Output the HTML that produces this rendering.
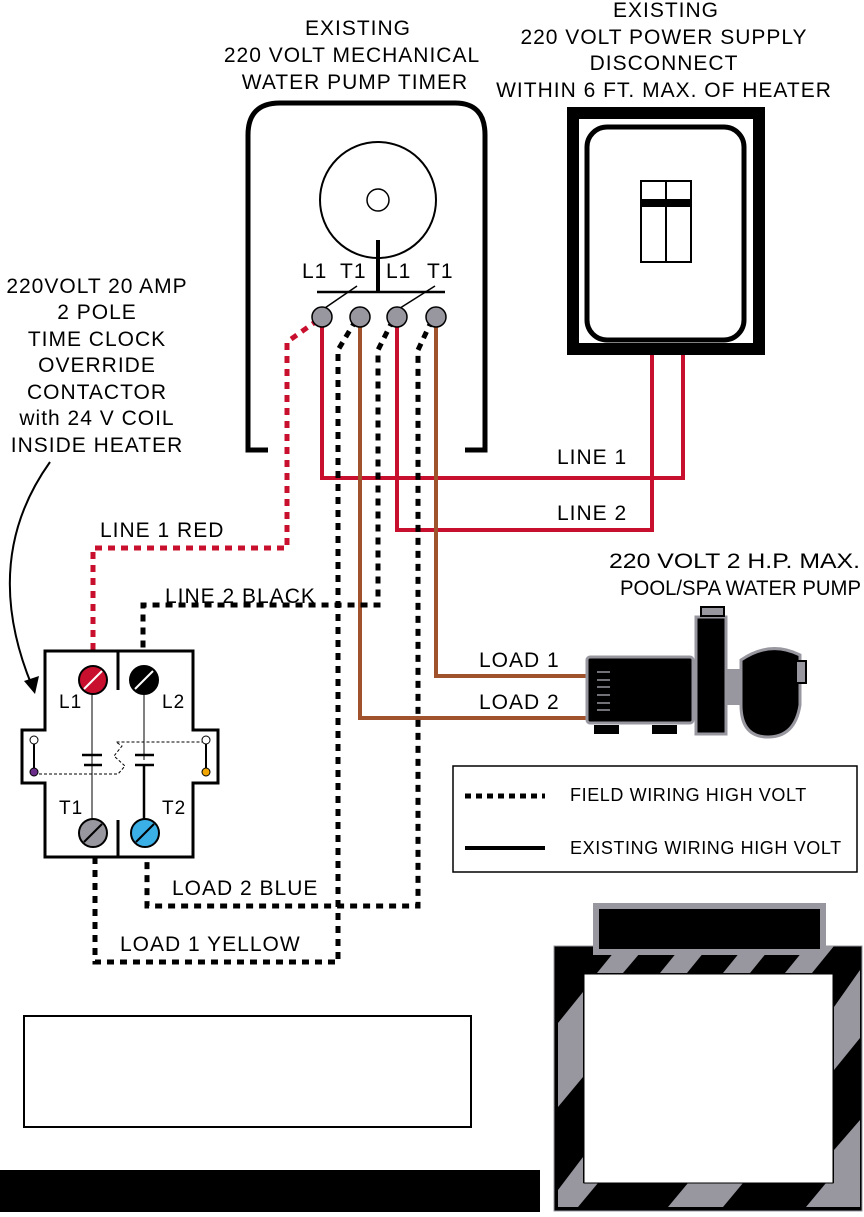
<!DOCTYPE html>
<html><head><meta charset="utf-8"><style>
body{margin:0;background:#fff}
svg text{font-family:"Liberation Sans",sans-serif;font-size:21px;letter-spacing:1px;fill:#000}
</style></head><body>
<svg width="864" height="1212" viewBox="0 0 864 1212" xmlns="http://www.w3.org/2000/svg">
<!-- header texts -->
<g text-anchor="middle">
<text x="358" y="35">EXISTING</text>
<text x="352" y="62">220 VOLT MECHANICAL</text>
<text x="355" y="89">WATER PUMP TIMER</text>
<text x="666" y="17">EXISTING</text>
<text x="664" y="44">220 VOLT POWER SUPPLY</text>
<text x="664" y="70">DISCONNECT</text>
<text x="664" y="97">WITHIN 6 FT. MAX. OF HEATER</text>
<text x="97" y="293">220VOLT 20 AMP</text>
<text x="97" y="319">2 POLE</text>
<text x="97" y="346">TIME CLOCK</text>
<text x="97" y="372">OVERRIDE</text>
<text x="97" y="399">CONTACTOR</text>
<text x="97" y="425">with 24 V COIL</text>
<text x="97" y="452">INSIDE HEATER</text>
</g>
<text x="609" y="568" style="letter-spacing:0" textLength="251" lengthAdjust="spacingAndGlyphs">220 VOLT 2 H.P. MAX.</text>
<text x="620" y="595" style="letter-spacing:0" textLength="241" lengthAdjust="spacingAndGlyphs">POOL/SPA WATER PUMP</text>
<!-- timer enclosure -->
<path d="M268,450 H248 V135 Q248,103 280,103 H455 Q485,103 485,135 V450 H465" fill="none" stroke="#000" stroke-width="5"/>
<circle cx="378" cy="200" r="58" fill="none" stroke="#000" stroke-width="2"/>
<circle cx="378" cy="200" r="11" fill="none" stroke="#000" stroke-width="1.5"/>
<line x1="378" y1="240" x2="378" y2="292" stroke="#000" stroke-width="4"/>
<line x1="317" y1="292" x2="445" y2="292" stroke="#000" stroke-width="2.5"/>
<line x1="322" y1="310" x2="357" y2="286" stroke="#000" stroke-width="1.5"/>
<line x1="397" y1="310" x2="435" y2="286" stroke="#000" stroke-width="1.5"/>
<text x="302" y="278">L1</text><text x="340" y="278">T1</text><text x="386" y="278">L1</text><text x="427" y="278">T1</text>
<!-- disconnect -->
<rect x="573" y="113" width="186" height="236" fill="none" stroke="#000" stroke-width="12"/>
<rect x="587" y="127" width="157" height="213" rx="20" fill="none" stroke="#000" stroke-width="5"/>
<rect x="641" y="181" width="50" height="81" fill="none" stroke="#000" stroke-width="2"/>
<line x1="666" y1="181" x2="666" y2="262" stroke="#000" stroke-width="2"/>
<rect x="641" y="199" width="50" height="8" fill="#000"/>
<!-- existing wires -->
<g fill="none" stroke-width="4">
<path d="M322,317 V478 H683 V355" stroke="#c8102e"/>
<path d="M397,317 V530 H652 V355" stroke="#c8102e"/>
<path d="M436,317 V676 H588" stroke="#a0522d"/>
<path d="M360,317 V718 H588" stroke="#a0522d"/>
</g>
<!-- field wiring -->
<g fill="none" stroke-width="5" stroke-dasharray="7,6">
<path d="M318,320 L287,342 V548 H93 V668" stroke="#c8102e"/>
<path d="M356,320 L338,350 V962 H95 V845" stroke="#000"/>
<path d="M393,320 L378,350 V605 H143 V668" stroke="#000"/>
<path d="M432,320 L418,350 V906 H147 V845" stroke="#000"/>
</g>
<!-- terminals -->
<g fill="#98979f" stroke="#000" stroke-width="1.5">
<circle cx="322" cy="317" r="10"/><circle cx="360" cy="317" r="10"/><circle cx="397" cy="317" r="10"/><circle cx="436" cy="317" r="10"/>
</g>
<text x="557" y="464">LINE 1</text>
<text x="557" y="520">LINE 2</text>
<text x="479" y="667">LOAD 1</text>
<text x="479" y="709">LOAD 2</text>
<text x="100" y="537">LINE 1 RED</text>
<text x="165" y="603">LINE 2 BLACK</text>
<text x="172" y="895">LOAD 2 BLUE</text>
<text x="120" y="951">LOAD 1 YELLOW</text>
<!-- arrow -->
<path d="M50,462 Q-20,560 32,686" fill="none" stroke="#000" stroke-width="2"/>
<path d="M24,681 L35,694 L39,676 Z" fill="#000"/>
<!-- contactor -->
<path d="M45,651 H193 V730 H218 V783 H193 V857 H45 V783 H22 V730 H45 Z" fill="#fff" stroke="#000" stroke-width="3"/>
<line x1="118" y1="651" x2="118" y2="690" stroke="#000" stroke-width="3"/>
<line x1="118" y1="820" x2="118" y2="857" stroke="#000" stroke-width="3"/>
<line x1="92" y1="690" x2="92" y2="820" stroke="#000" stroke-width="1"/>
<line x1="144" y1="690" x2="144" y2="760" stroke="#000" stroke-width="1"/>
<line x1="144" y1="765" x2="144" y2="820" stroke="#000" stroke-width="2.5"/>
<g stroke="#000" stroke-width="2.5"><line x1="82" y1="755" x2="102" y2="755"/><line x1="84" y1="765" x2="102" y2="765"/><line x1="135" y1="755" x2="154" y2="755"/><line x1="135" y1="765" x2="154" y2="765"/></g>
<path d="M34,774 H118 L125,766 L114,756 L122,746 L116,742 H206" fill="none" stroke="#000" stroke-width="1" stroke-dasharray="3,2"/>
<line x1="34" y1="743" x2="34" y2="772" stroke="#000" stroke-width="2"/>
<line x1="206" y1="743" x2="206" y2="772" stroke="#000" stroke-width="2"/>
<circle cx="34" cy="740" r="4" fill="#fff" stroke="#000"/><circle cx="34" cy="772" r="4" fill="#6b2d8a" stroke="#000"/>
<circle cx="206" cy="740" r="4" fill="#fff" stroke="#000"/><circle cx="206" cy="772" r="4" fill="#f0a500" stroke="#000"/>
<g stroke="#000" stroke-width="2">
<circle cx="93" cy="680" r="14" fill="#c8102e"/><circle cx="144" cy="680" r="14" fill="#000"/>
<circle cx="93" cy="833" r="14" fill="#98979f"/><circle cx="145" cy="833" r="14" fill="#3bb0e6"/>
</g>
<g stroke-width="2"><line x1="84" y1="689" x2="102" y2="671" stroke="#fff"/><line x1="135" y1="689" x2="153" y2="671" stroke="#fff"/><line x1="84" y1="842" x2="102" y2="824" stroke="#000"/><line x1="136" y1="842" x2="154" y2="824" stroke="#000"/></g>
<text x="59" y="708" style="font-size:19px">L1</text><text x="162" y="708" style="font-size:19px">L2</text><text x="59" y="814" style="font-size:19px">T1</text><text x="162" y="814" style="font-size:19px">T2</text>
<!-- pump -->
<rect x="587" y="657" width="106" height="66" rx="3" fill="#000" stroke="#98979f" stroke-width="3"/>
<g stroke="#98979f" stroke-width="1.5"><line x1="597" y1="672" x2="610" y2="672"/><line x1="597" y1="680" x2="610" y2="680"/><line x1="597" y1="687" x2="610" y2="687"/><line x1="597" y1="695" x2="610" y2="695"/><line x1="597" y1="703" x2="610" y2="703"/><line x1="597" y1="710" x2="610" y2="710"/></g>
<rect x="594" y="725" width="25" height="9" fill="#000"/><rect x="652" y="725" width="25" height="9" fill="#000"/>
<rect x="726" y="669" width="18" height="36" fill="#98979f"/>
<path d="M741,660 Q770,640 800,655 V705 Q795,737 768,737 Q741,737 741,705 Z" fill="#000" stroke="#98979f" stroke-width="3"/>
<rect x="796" y="661" width="10" height="22" fill="#98979f" stroke="#000" stroke-width="2"/>
<rect x="696" y="617" width="30" height="117" fill="#000" stroke="#98979f" stroke-width="3"/>
<rect x="701" y="607" width="23" height="9" fill="#98979f" stroke="#000" stroke-width="2"/>
<!-- legend -->
<rect x="453" y="766" width="404" height="106" fill="#fff" stroke="#000" stroke-width="1.5"/>
<line x1="465" y1="796" x2="545" y2="796" stroke="#000" stroke-width="5" stroke-dasharray="6,5"/>
<line x1="465" y1="848" x2="545" y2="848" stroke="#000" stroke-width="4"/>
<text x="570" y="801" style="font-size:18px;letter-spacing:0.6px">FIELD WIRING HIGH VOLT</text>
<text x="570" y="854" style="font-size:18px;letter-spacing:0.6px">EXISTING WIRING HIGH VOLT</text>
<!-- text box and black bar -->
<rect x="24" y="1016" width="447" height="111" fill="#fff" stroke="#000" stroke-width="2"/>
<rect x="0" y="1170" width="540" height="42" fill="#000"/>
<!-- warning box -->
<rect x="554" y="946" width="308" height="265" fill="#000" stroke="#98979f" stroke-width="1"/>
<g fill="#98979f">
<polygon points="597,973 619,946 646,946 623,973"/>
<polygon points="660,973 682,946 709,946 687,973"/>
<polygon points="723,973 745,946 772,946 750,973"/>
<polygon points="785,973 807,946 834,946 812,973"/>
<polygon points="558,1023 583,992 583,1077 558,1107"/>
<polygon points="558,1190 583,1157 583,1183 598,1183 578,1207 558,1207"/>
<polygon points="834,1007 860,970 860,1038 834,1070"/>
<polygon points="834,1150 860,1120 860,1207 806,1207 826,1183 834,1183"/>
<polygon points="668,1207 688,1183 743,1183 723,1207"/>
</g>
<rect x="584" y="974" width="249" height="209" fill="#fff" stroke="#000" stroke-width="1"/>
<rect x="596" y="906" width="227" height="46" fill="#000" stroke="#98979f" stroke-width="6"/>
</svg>
</body></html>
